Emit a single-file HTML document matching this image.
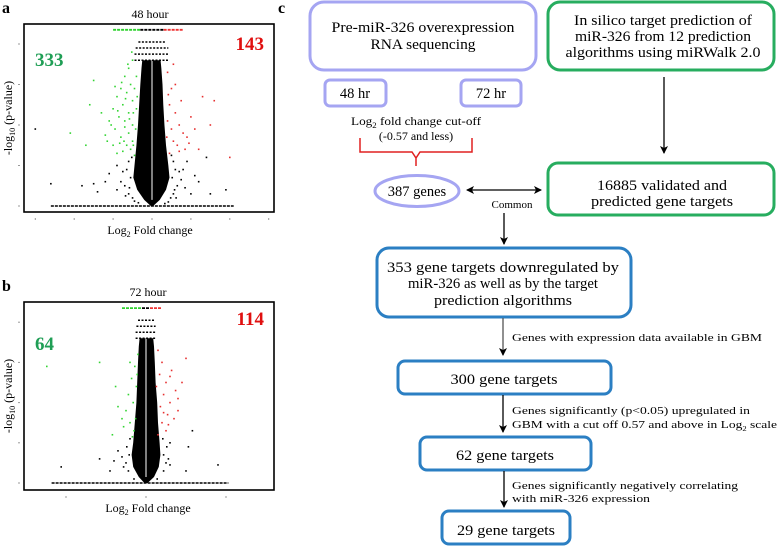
<!DOCTYPE html>
<html><head><meta charset="utf-8"><style>
html,body{margin:0;padding:0;background:#fff;}
svg{display:block;font-family:"Liberation Serif",serif;}
</style></head><body>
<svg id="fig" width="777" height="547" viewBox="0 0 777 547" xmlns="http://www.w3.org/2000/svg">
<defs>
<marker id="ah" markerWidth="8" markerHeight="8" refX="7" refY="4" orient="auto" markerUnits="userSpaceOnUse"><path d="M0,0 L8,4 L0,8 L2,4 z" fill="#000"/></marker>
<marker id="ahs" markerWidth="8" markerHeight="8" refX="1" refY="4" orient="auto" markerUnits="userSpaceOnUse"><path d="M8,0 L0,4 L8,8 L6,4 z" fill="#000"/></marker>
</defs>
<text x="2" y="13" font-size="16" font-weight="bold">a</text>
<text x="2" y="291" font-size="16" font-weight="bold">b</text>
<text x="278" y="13" font-size="16" font-weight="bold">c</text>

<g id="plotA"></g>
<g id="plotB"></g>

<g font-size="14.5">
 <g>
  <rect x="310" y="2" width="226" height="68" rx="14" fill="#fff" stroke="#a5a5f2" stroke-width="3"/>
  <text x="423" y="32" text-anchor="middle" textLength="183" lengthAdjust="spacingAndGlyphs">Pre-miR-326 overexpression</text>
  <text x="423" y="49" text-anchor="middle" textLength="105" lengthAdjust="spacingAndGlyphs">RNA sequencing</text>
 </g>
 <g>
  <rect x="325" y="80" width="61" height="26" rx="5" fill="#fff" stroke="#a5a5f2" stroke-width="3"/>
  <text x="355" y="98" text-anchor="middle">48 hr</text>
 </g>
 <g>
  <rect x="461" y="80" width="60" height="26" rx="5" fill="#fff" stroke="#a5a5f2" stroke-width="3"/>
  <text x="491" y="98" text-anchor="middle">72 hr</text>
 </g>
 <text x="416" y="125" text-anchor="middle" font-size="12" textLength="130" lengthAdjust="spacingAndGlyphs">Log<tspan font-size="8" dy="3">2</tspan><tspan dy="-3"> fold change cut-off</tspan></text>
 <text x="416" y="140" text-anchor="middle" font-size="12">(-0.57 and less)</text>
 <path d="M360,138 L360,152 L412,152 L416,158 L420,152 L472,152 L472,138 M416,158 L416,166" fill="none" stroke="#e02020" stroke-width="1.5"/>
 <g>
  <ellipse cx="417" cy="191" rx="42" ry="15.5" fill="#fff" stroke="#a5a5f2" stroke-width="3"/>
  <text x="417" y="196" text-anchor="middle">387 genes</text>
 </g>
 <line x1="467" y1="190" x2="541" y2="190" stroke="#000" stroke-width="1.3" marker-start="url(#ahs)" marker-end="url(#ah)"/>
 <text x="512" y="208" text-anchor="middle" font-size="11">Common</text>
 <line x1="504" y1="213" x2="504" y2="244" stroke="#000" stroke-width="1.3" marker-end="url(#ah)"/>
 <g>
  <rect x="548" y="2" width="226" height="68" rx="12" fill="#fff" stroke="#27ad5f" stroke-width="3"/>
  <text x="663" y="25" text-anchor="middle" textLength="178" lengthAdjust="spacingAndGlyphs">In silico target prediction of</text>
  <text x="663" y="41" text-anchor="middle" textLength="176" lengthAdjust="spacingAndGlyphs">miR-326 from 12 prediction</text>
  <text x="663" y="57" text-anchor="middle" textLength="195" lengthAdjust="spacingAndGlyphs">algorithms using miRWalk 2.0</text>
 </g>
 <line x1="664" y1="77" x2="664" y2="153" stroke="#000" stroke-width="1.3" marker-end="url(#ah)"/>
 <g>
  <rect x="548" y="163" width="226" height="52" rx="10" fill="#fff" stroke="#27ad5f" stroke-width="3"/>
  <text x="662" y="190" text-anchor="middle" textLength="130" lengthAdjust="spacingAndGlyphs">16885 validated and</text>
  <text x="662" y="206" text-anchor="middle" textLength="142" lengthAdjust="spacingAndGlyphs">predicted gene targets</text>
 </g>
 <g>
  <rect x="377" y="248" width="254" height="69" rx="12" fill="#fff" stroke="#2b7fc3" stroke-width="3"/>
  <text x="503" y="272" text-anchor="middle" textLength="232" lengthAdjust="spacingAndGlyphs">353 gene targets downregulated  by</text>
  <text x="503" y="288" text-anchor="middle" textLength="190" lengthAdjust="spacingAndGlyphs">miR-326 as well as by the target</text>
  <text x="503" y="305" text-anchor="middle" textLength="138" lengthAdjust="spacingAndGlyphs">prediction algorithms</text>
 </g>
 <line x1="503" y1="318" x2="503" y2="355" stroke="#555" stroke-width="1.3" marker-end="url(#ah)"/>
 <text x="512" y="341" font-size="11" textLength="250" lengthAdjust="spacingAndGlyphs">Genes with expression data available in GBM</text>
 <g>
  <rect x="398" y="361" width="213" height="33" rx="7" fill="#fff" stroke="#2b7fc3" stroke-width="3"/>
  <text x="504" y="384" text-anchor="middle" textLength="107" lengthAdjust="spacingAndGlyphs">300 gene targets</text>
 </g>
 <line x1="503" y1="395" x2="503" y2="432" stroke="#000" stroke-width="1.3" marker-end="url(#ah)"/>
 <text x="512" y="414" font-size="11" textLength="238" lengthAdjust="spacingAndGlyphs">Genes significantly (p&lt;0.05) upregulated in</text>
 <text x="512" y="428" font-size="11" textLength="265" lengthAdjust="spacingAndGlyphs">GBM with a cut off 0.57 and above in Log<tspan font-size="7" dy="3">2</tspan><tspan dy="-3"> scale</tspan></text>
 <g>
  <rect x="420" y="437" width="171" height="33" rx="7" fill="#fff" stroke="#2b7fc3" stroke-width="3"/>
  <text x="505" y="460" text-anchor="middle" textLength="98" lengthAdjust="spacingAndGlyphs">62 gene targets</text>
 </g>
 <line x1="504" y1="471" x2="504" y2="507" stroke="#000" stroke-width="1.3" marker-end="url(#ah)"/>
 <text x="512" y="489" font-size="11" textLength="226" lengthAdjust="spacingAndGlyphs">Genes significantly negatively correlating</text>
 <text x="512" y="502" font-size="11" textLength="138" lengthAdjust="spacingAndGlyphs">with miR-326 expression</text>
 <g>
  <rect x="442" y="511" width="128" height="33" rx="7" fill="#fff" stroke="#2b7fc3" stroke-width="3"/>
  <text x="506" y="535" text-anchor="middle" textLength="98" lengthAdjust="spacingAndGlyphs">29 gene targets</text>
 </g>
</g>
</svg>
<script>
// ---- Plot A data (48 hour) ----
const aXTicks = [-3,-2,-1,0,1,2,3];
const aYTicks = [0,1,2,3,4];
const aCoreP = [0,0.15,0.4,0.7,1.0,1.5,2.0,2.5,3.0,3.4,3.6];
const aCoreL = [-0.03,-0.2,-0.38,-0.48,-0.45,-0.4,-0.36,-0.33,-0.3,-0.27,-0.25];
const aCoreR = [0.03,0.2,0.36,0.45,0.42,0.36,0.32,0.29,0.27,0.24,0.22];
const aGreen = [[-0.5,3.6],[-0.6,3.4],[-0.7,3.2],[-0.55,3.0],[-0.8,2.9],[-0.65,2.8],[-0.9,2.7],[-0.5,2.6],[-0.75,2.5],[-1.0,2.4],[-0.6,2.3],[-0.85,2.2],[-1.1,2.1],[-0.5,2.0],[-0.7,1.95],[-0.95,1.9],[-0.6,1.8],[-1.2,1.75],[-0.8,1.7],[-0.5,1.6],[-0.65,1.5],[-1.0,1.5],[-0.55,1.4],[-0.75,1.35],[-0.9,1.3],[-0.45,1.25],[-1.6,2.5],[-2.1,1.8],[-1.5,3.1],[-0.4,3.2],[-0.45,2.9],[-0.4,2.4],[-0.42,1.9],[-0.48,1.5],[-0.58,2.15],[-0.68,2.65],[-0.78,3.05],[-0.88,2.35],[-1.05,2.0],[-1.3,2.3],[-0.62,3.5],[-0.52,3.8],[-0.72,1.6],[-1.15,1.6],[-0.38,2.7],[-1.7,1.5],[-0.95,2.95],[-0.7,2.1],[-0.48,2.3],[-0.83,1.55]];
const aRed = [[0.4,3.3],[0.5,2.9],[0.45,2.5],[0.6,2.3],[0.7,2.0],[0.5,1.9],[0.8,1.8],[0.55,1.6],[0.9,1.7],[0.65,1.5],[1.1,1.9],[0.4,2.1],[0.75,2.6],[1.0,2.2],[0.6,3.0],[0.38,1.7],[1.2,1.4],[1.5,2.0],[1.6,2.6],[0.85,1.4],[0.45,1.3],[1.3,2.7],[2.0,1.2],[0.55,3.5],[0.7,1.35],[0.95,1.55],[0.42,2.75]];
const aBlack = [[-2.6,0.55],[-1.8,0.5],[-1.4,0.35],[-1.1,0.8],[1.2,0.6],[1.5,0.3],[1.9,0.4],[0.9,1.1],[-1.5,0.55],[1.0,0.3],[-0.9,1.0],[0.8,0.9],[-1.2,0.6],[1.1,0.75],[-3.0,1.9],[1.4,1.2],
 [-0.6,0.3],[-0.7,0.5],[-0.55,0.7],[-0.65,0.9],[-0.6,1.1],[-0.5,0.2],[-0.8,0.6],[-0.75,0.85],[-0.52,1.2],[-0.9,0.4],[-0.58,0.45],[-0.68,0.25],
 [0.55,0.3],[0.65,0.5],[0.52,0.7],[0.6,0.9],[0.55,1.1],[0.48,0.2],[0.75,0.65],[0.7,0.85],[0.5,1.25],[0.85,0.45],[0.58,0.4],[0.62,0.2],[-0.45,0.12],[0.42,0.1],[-0.35,0.08],[0.33,0.06]];
const aBaseRange = [-2.6,2.1];
const aTopRow = [4.35,-1.0,-0.3,0.3,0.8];
const aCapRows = [4.05,3.9,3.75,3.6];
const aCapHalf = [0.35,0.42,0.45,0.45];
const aCounts = ["333","143"];
// ---- Plot B data (72 hour) ----
const bXTicks = [-1,0,1];
const bYTicks = [0,1,2,3,4];
const bCoreP = [0,0.15,0.4,0.7,1.0,1.5,2.0,2.5,3.0,3.4,3.6];
const bCoreL = [-0.02,-0.09,-0.16,-0.18,-0.16,-0.14,-0.12,-0.11,-0.1,-0.09,-0.08];
const bCoreR = [0.02,0.1,0.16,0.18,0.17,0.15,0.14,0.12,0.11,0.1,0.09];
const bGreen = [[-0.1,3.2],[-0.14,2.9],[-0.18,2.6],[-0.12,2.4],[-0.22,2.2],[-0.16,2.0],[-0.25,1.8],[-0.13,1.6],[-0.2,1.5],[-0.28,1.4],[-0.15,1.3],[-0.35,1.9],[-0.38,2.4],[-0.58,3.0],[-1.24,2.9],[-0.42,1.2],[-0.11,2.7],[-0.2,3.0],[-0.3,1.6],[-0.17,1.15]];
const bRed = [[0.15,3.3],[0.2,3.0],[0.17,2.7],[0.25,2.5],[0.22,2.2],[0.3,2.0],[0.18,1.9],[0.27,1.7],[0.35,1.6],[0.2,1.5],[0.4,2.1],[0.45,2.5],[0.5,3.1],[0.32,2.8],[0.25,1.3],[0.15,1.2],[0.4,1.8],[0.37,2.3],[0.13,2.4],[0.28,1.45],[0.22,1.75],[0.3,2.65]];
const bBlack = [[-0.58,0.6],[-1.06,0.4],[-0.45,0.3],[0.5,0.3],[0.53,0.9],[0.9,0.45],[-0.35,0.8],[0.3,1.0],[-0.4,0.55],[0.58,1.3],
 [-0.22,0.3],[-0.25,0.5],[-0.21,0.7],[-0.24,0.9],[-0.2,1.1],[-0.28,0.4],[0.22,0.3],[0.25,0.5],[0.22,0.7],[0.26,0.9],[0.21,1.1],[0.28,0.6],[-0.15,0.1],[0.14,0.1],[-0.3,0.65],[0.3,0.45]];
const bBaseRange = [-1.18,1.03];
const bTopRow = [4.35,-0.3,-0.05,0.05,0.2];
const bCapRows = [4.05,3.9,3.75,3.6];
const bCapHalf = [0.1,0.12,0.13,0.13];
const bCounts = ["64","114"];

const NS="http://www.w3.org/2000/svg";
function mk(parent, tag, attrs){const e=document.createElementNS(NS,tag);for(const k in attrs)e.setAttribute(k,attrs[k]);parent.appendChild(e);return e;}

function drawPlot(g, cfg){
  const sx=v=>cfg.x0+v*cfg.ux, sy=v=>cfg.y0-v*cfg.uy;
  const t=mk(g,'text',{x:cfg.cx,y:cfg.top-6,'text-anchor':'middle','font-size':12});
  t.textContent=cfg.title;
  
  
  let pts=[];
  cfg.coreP.forEach((p,i)=>pts.push(sx(cfg.coreL[i])+','+sy(p)));
  for(let i=cfg.coreP.length-1;i>=0;i--)pts.push(sx(cfg.coreR[i])+','+sy(cfg.coreP[i]));
  const core=mk(g,'polygon',{points:pts.join(' '),fill:'#000'});
  
  
  mk(g,'line',{x1:sx(0),x2:sx(0),y1:sy(cfg.coreP[cfg.coreP.length-1]),y2:sy(0.15),stroke:'#fff','stroke-width':1});
  const base=mk(g,'line',{x1:sx(cfg.base[0]),x2:sx(cfg.base[1]),y1:sy(0),y2:sy(0),stroke:'#000','stroke-width':1.6,'stroke-dasharray':'3 1'});
  
  
  cfg.capRows.forEach((p,i)=>{
    const l=mk(g,'line',{x1:sx(-cfg.capHalf[i]),x2:sx(cfg.capHalf[i]),y1:sy(p),y2:sy(p),stroke:'#000','stroke-width':1.5,'stroke-dasharray':'2 1.5'});
    
    
  });
  const tr=cfg.topRow;
  [[tr[1],tr[2],'#2fd12f'],[tr[2],tr[3],'#000'],[tr[3],tr[4],'#e33']].forEach(s=>{
    const l=mk(g,'line',{x1:sx(s[0]),x2:sx(s[1]),y1:sy(tr[0]),y2:sy(tr[0]),stroke:s[2],'stroke-width':1.8,'stroke-dasharray':'3 1'});
    
    
  });
  const pt=(arr,col,name)=>arr.forEach(d=>{
    const r=mk(g,'rect',{x:sx(d[0])-0.8,y:sy(d[1])-0.8,width:1.6,height:1.6,fill:col});
    
    
  });
  pt(cfg.green,'#33d433','downregulated-point');
  pt(cfg.red,'#e63030','upregulated-point');
  pt(cfg.black,'#000','nonsignificant-point');
  const fr=mk(g,'rect',{x:cfg.left,y:cfg.top,width:cfg.right-cfg.left,height:cfg.bottom-cfg.top,fill:'none',stroke:'#000','stroke-width':1.6});
  
  
  cfg.xt.forEach(v=>{const l=mk(g,'line',{x1:sx(v),x2:sx(v),y1:cfg.bottom+6,y2:cfg.bottom+8,stroke:'#999'});
    });
  cfg.yt.forEach(v=>{const l=mk(g,'line',{x1:cfg.left-6,x2:cfg.left-4,y1:sy(v),y2:sy(v),stroke:'#999'});
    });
  const xl=mk(g,'text',{x:cfg.cx,y:cfg.bottom+22,'text-anchor':'middle','font-size':12});
  xl.innerHTML='Log<tspan font-size="8" dy="3">2</tspan><tspan dy="-3"> Fold change</tspan>';
  
  
  const ym=(cfg.top+cfg.bottom)/2;
  const yl=mk(g,'text',{x:12,y:ym,'text-anchor':'middle','font-size':12,transform:'rotate(-90 12 '+ym+')'});
  yl.innerHTML='-log<tspan font-size="8" dy="3">10</tspan><tspan dy="-3"> (p-value)</tspan>';
  
  
  const c1=mk(g,'text',{x:cfg.left+11,y:cfg.gy,'font-size':19,'font-weight':'bold',fill:'#1f9e55'});
  c1.textContent=cfg.counts[0];
  
  
  const c2=mk(g,'text',{x:cfg.right-10,y:cfg.ry,'font-size':19,'font-weight':'bold',fill:'#e01010','text-anchor':'end'});
  c2.textContent=cfg.counts[1];
  
  
}
drawPlot(document.getElementById('plotA'),{title:'48 hour',left:24,right:274,top:24,bottom:212,cx:150,x0:152,ux:38.9,y0:206,uy:40.5,
 coreP:aCoreP,coreL:aCoreL,coreR:aCoreR,green:aGreen,red:aRed,black:aBlack,base:aBaseRange,topRow:aTopRow,capRows:aCapRows,capHalf:aCapHalf,
 xt:aXTicks,yt:aYTicks,counts:aCounts,gy:66,ry:50});
drawPlot(document.getElementById('plotB'),{title:'72 hour',left:24,right:274,top:302,bottom:490,cx:148,x0:146,ux:80,y0:483,uy:40.2,
 coreP:bCoreP,coreL:bCoreL,coreR:bCoreR,green:bGreen,red:bRed,black:bBlack,base:bBaseRange,topRow:bTopRow,capRows:bCapRows,capHalf:bCapHalf,
 xt:bXTicks,yt:bYTicks,counts:bCounts,gy:350,ry:325});
</script>
</body></html>
